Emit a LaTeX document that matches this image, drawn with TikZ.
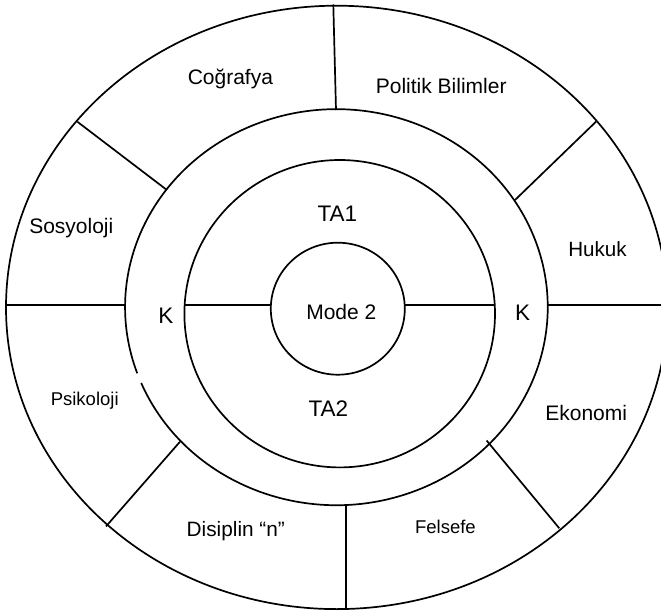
\documentclass[tikz,border=0pt]{standalone}
\usepackage{fontspec}
\setmainfont{Liberation Sans}
\begin{document}
\begin{tikzpicture}[x=1pt,y=1pt,
  ring/.style={draw=black,line width=1.7pt},
  divider/.style={draw=black,line width=1.7pt},
  lbl/.style={anchor=base,inner sep=0pt,text=black},
  big/.style={lbl,font=\fontsize{22.5}{26}\selectfont},
  mid/.style={lbl,font=\fontsize{21}{25}\selectfont},
  small/.style={lbl,font=\fontsize{18.5}{22}\selectfont}]
\clip (0,0) rectangle (661,614);
\fill[white] (0,0) rectangle (661,614);
% rings
\draw[ring] (336.7,306.6) ellipse [x radius=330.7pt, y radius=301.7pt];
\draw[ring] (336.4,306.8) ++(202.5:211.3pt and 198pt) arc [start angle=202.5, end angle=559.5, x radius=211.3pt, y radius=198pt];
\draw[ring] (339.7,300.3) ellipse [x radius=155.3pt, y radius=153.7pt];
\draw[ring] (337.8,305.3) ellipse [x radius=67pt, y radius=66pt];
% divider end points
\coordinate (t1) at (333.3,609.5); \coordinate (t2) at (336,504);
\coordinate (s1) at (77.3,492.3); \coordinate (s2) at (166,424.7);
\coordinate (h1) at (596,492.3); \coordinate (h2) at (515,414);
\coordinate (l1) at (5,309); \coordinate (l2) at (125,309);
\coordinate (r1) at (547.7,309); \coordinate (r2) at (665,309);
\coordinate (d1) at (180,172.3); \coordinate (d2) at (106,87.6);
\coordinate (f1) at (486.6,173.5); \coordinate (f2) at (559.3,85.7);
\coordinate (b1) at (346,109); \coordinate (b2) at (346,4.5);
\coordinate (il1) at (184,309); \coordinate (il2) at (270.8,309);
\coordinate (ir1) at (404.8,309); \coordinate (ir2) at (495,309);
\draw[divider] (t1) -- (t2);
\draw[divider] (s1) -- (s2);
\draw[divider] (h1) -- (h2);
\draw[divider] (l1) -- (l2);
\draw[divider] (r1) -- (r2);
\draw[divider] (d1) -- (d2);
\draw[divider] (f1) -- (f2);
\draw[divider] (b1) -- (b2);
\draw[divider] (il1) -- (il2);
\draw[divider] (ir1) -- (ir2);
% labels
\node[big] (ta1) at (337.3,392.3) {TA1};
\node[big] (ta2) at (328.3,197.3) {TA2};
\node[mid] (mode) at (341.3,294.7) {Mode 2};
\node[big] (kl) at (165.8,290.7) {K};
\node[big] (kr) at (522.5,293.3) {K};
\node[mid] (cog) at (230.4,529.3) {Coğrafya};
\node[mid] (pol) at (441.2,520) {Politik Bilimler};
\node[mid] (sos) at (71.3,380.4) {Sosyoloji};
\node[mid,font=\fontsize{20.6}{24}\selectfont] (huk) at (597.5,357.3) {Hukuk};
\node[small] (psi) at (84.7,209) {Psikoloji};
\node[mid] (eko) at (586.2,193.3) {Ekonomi};
\node[mid,font=\fontsize{20.8}{24}\selectfont] (dis) at (235.8,78) {Disiplin “n”};
\node[small] (fel) at (445.4,80.7) {Felsefe};
\end{tikzpicture}
\end{document}
